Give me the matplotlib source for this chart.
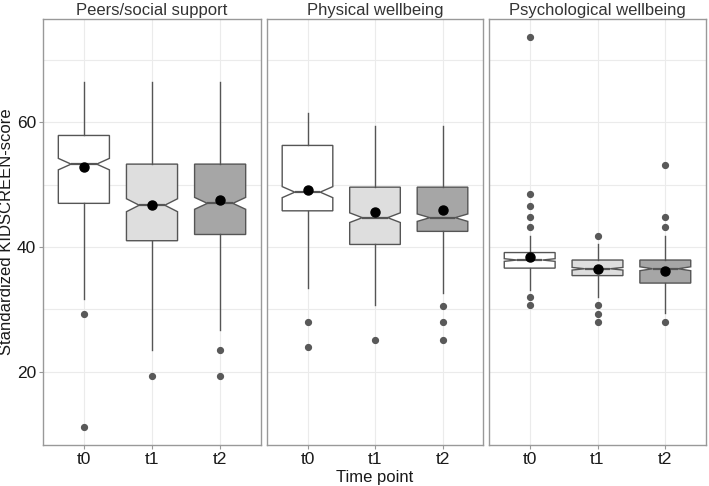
import matplotlib.pyplot as plt
import numpy as np

plt.rcParams['font.family'] = ['Liberation Sans', 'DejaVu Sans']

domains = ['Peers/social support', 'Physical wellbeing', 'Psychological wellbeing']
time_points = ['t0', 't1', 't2']
fills = ['#ffffff', '#dedede', '#a6a6a6']

# per domain, per time point: (whisker low, q1, median, q3, whisker high)
peers_stats = [(31.6, 47.0, 53.3, 57.9, 66.5),
               (23.5, 41.0, 46.7, 53.3, 66.5),
               (26.7, 42.0, 47.0, 53.3, 66.5)]
physical_stats = [(33.4, 45.8, 48.8, 56.3, 61.5),
                  (30.6, 40.4, 44.7, 49.6, 59.4),
                  (32.6, 42.5, 44.7, 49.6, 59.4)]
psych_stats = [(33.1, 36.6, 37.9, 39.1, 41.7),
               (31.9, 35.4, 36.5, 37.9, 40.4),
               (29.4, 34.2, 36.5, 37.9, 41.7)]

peers_means = [52.8, 46.7, 47.5]
physical_means = [49.1, 45.6, 45.9]
psych_means = [38.4, 36.4, 36.2]

peers_outliers = [[29.2, 11.1], [19.3], [23.5, 19.3]]
physical_outliers = [[28.0, 23.9], [25.0], [30.5, 28.0, 25.0]]
psych_outliers = [[73.7, 48.5, 46.5, 44.8, 43.2, 31.9, 30.6],
                  [41.7, 30.6, 29.3, 28.0],
                  [53.1, 44.8, 43.2, 28.0]]

n_obs = 350

all_stats = [peers_stats, physical_stats, psych_stats]
all_means = [peers_means, physical_means, psych_means]
all_outliers = [peers_outliers, physical_outliers, psych_outliers]

fig = plt.figure(figsize=(7.09, 4.86), dpi=100)
W, H = 709, 486
panels = [(43, 261), (267, 483), (489, 706)]
top, bottom = 19, 445

for k, (x0, x1) in enumerate(panels):
    ax = fig.add_axes([x0 / W, 1 - bottom / H, (x1 - x0) / W, (bottom - top) / H])
    bstats = []
    for j, (wlo, q1, med, q3, whi) in enumerate(all_stats[k]):
        half = 1.58 * (q3 - q1) / np.sqrt(n_obs)
        bstats.append(dict(whislo=wlo, q1=q1, med=med, q3=q3, whishi=whi,
                           cilo=med - half, cihi=med + half,
                           fliers=all_outliers[k][j]))
    ax.set_axisbelow(True)
    ax.grid(True, color='#ebebeb', lw=0.8)
    bp = ax.bxp(bstats, positions=[1, 2, 3], widths=0.75, shownotches=True,
                patch_artist=True, showcaps=False,
                boxprops=dict(edgecolor='#555555', lw=1.0),
                whiskerprops=dict(color='#555555', lw=1.0),
                medianprops=dict(color='#555555', lw=1.6),
                flierprops=dict(marker='o', markerfacecolor='#595959',
                                markeredgecolor='#595959', markersize=4.2))
    for patch, c in zip(bp['boxes'], fills):
        patch.set_facecolor(c)
    ax.plot([1, 2, 3], all_means[k], 'o', color='black', markersize=6.5, zorder=5)

    ax.set_xlim(0.4, 3.6)
    ax.set_ylim(8.2, 76.6)
    ax.set_xticks([1, 2, 3])
    ax.set_xticklabels(time_points)
    ax.set_yticks([20, 30, 40, 50, 60, 70])
    ax.set_yticklabels(['20', '', '40', '', '60', ''])
    ax.tick_params(colors='#999999', labelcolor='#1a1a1a', labelsize=12.5, length=3, pad=2)
    # grid lines only at 30/50/70, no tick marks there
    for t, lab in zip(ax.yaxis.get_major_ticks(), [20, 30, 40, 50, 60, 70]):
        if lab % 20 != 0:
            t.tick1line.set_visible(False)
    for s in ax.spines.values():
        s.set_color('#999999')
        s.set_linewidth(1.0)
    ax.set_title(domains[k], fontsize=12, color='#333333', pad=3)
    if k == 0:
        ax.set_ylabel('Standardized KIDSCREEN-score', fontsize=12, color='#1a1a1a', labelpad=2)
    else:
        ax.tick_params(axis='y', left=False, labelleft=False)
    if k == 1:
        ax.set_xlabel('Time point', fontsize=12, color='#1a1a1a', labelpad=2)

fig.savefig('out.png', dpi=100)
